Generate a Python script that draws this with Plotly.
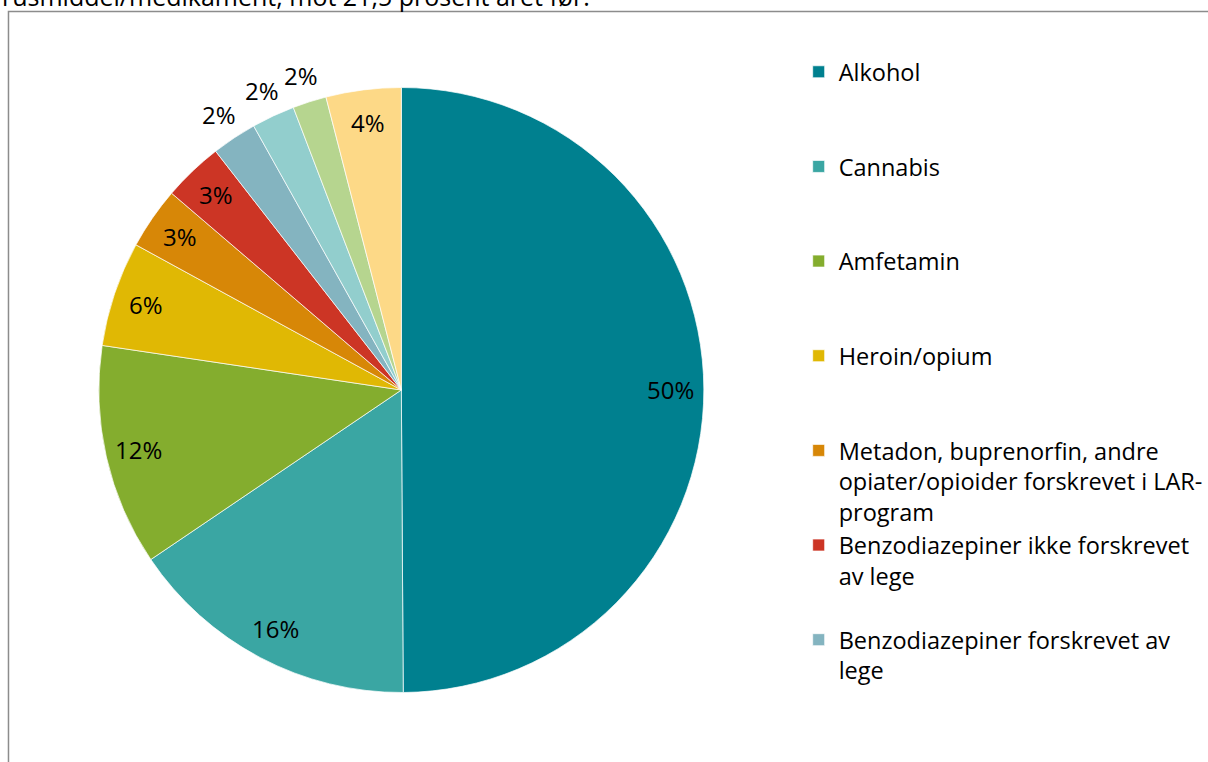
import math
import plotly.graph_objects as go

# Andel av innsatte etter rusmiddel/medikament (prosent)
categories = [
    "Alkohol",
    "Cannabis",
    "Amfetamin",
    "Heroin/opium",
    "Metadon, buprenorfin, andre<br>opiater/opioider forskrevet i LAR-<br>program",
    "Benzodiazepiner ikke forskrevet<br>av lege",
    "Benzodiazepiner forskrevet av<br>lege",
    "Kokain",
    "Andre legemidler",
    "Annet",
]
values = [49.8, 15.6, 11.8, 5.6, 3.3, 3.2, 2.4, 2.3, 1.8, 4.0]
colors = ["#00808f", "#3aa6a3", "#84ad2e", "#e0b804", "#d78707",
          "#cc3525", "#84b4c0", "#92cecd", "#b6d58f", "#fdd987"]
# which slices carry their label outside the pie
outside = [False, False, False, False, False, False, True, True, True, False]

W, H = 1208, 762
CX, CY, R = 402, 390, 303
FONT = "Open Sans"


def px(x):
    return x / W


def py(y):
    return 1 - y / H


# pad every legend entry to three lines so the entries sit on an even grid
def legend_text(s):
    n = s.count("<br>") + 1
    return s + "<br> " * (3 - n)


labels = [legend_text(c) for c in categories]

fig = go.Figure(
    go.Pie(
        labels=labels,
        values=values,
        sort=False,
        direction="clockwise",
        rotation=0,
        textinfo="none",
        hoverinfo="label+percent",
        marker=dict(colors=colors, line=dict(color="white", width=0.7)),
        domain=dict(x=[px(CX - R), px(CX + R)], y=[py(CY + R), py(CY - R)]),
    )
)

# percentage labels placed along each slice's mid-angle
total = sum(values)
cum = 0.0
annotations = []
for v, out in zip(values, outside):
    mid = (cum + v / 2) / total * 2 * math.pi
    cum += v
    r = R * (1.09 if out else 0.89)
    x = CX + r * math.sin(mid)
    y = CY - r * math.cos(mid)
    annotations.append(dict(
        x=px(x), y=py(y), xref="paper", yref="paper",
        text=f"{round(v / total * 100)}%", showarrow=False,
        xanchor="center", yanchor="middle",
        font=dict(family=FONT, size=24, color="#000000"),
    ))

annotations.append(dict(
    x=0, y=py(15), xref="paper", yref="paper",
    text="rusmiddel/medikament, mot 21,5 prosent året før.",
    showarrow=False, xanchor="left", yanchor="bottom",
    font=dict(family=FONT, size=25, color="#000000"),
))

fig.update_layout(
    width=W, height=H,
    margin=dict(l=0, r=0, t=0, b=0),
    paper_bgcolor="white",
    plot_bgcolor="white",
    font=dict(family=FONT, color="#000000"),
    showlegend=True,
    legend=dict(
        x=px(800), y=py(50), xanchor="left", yanchor="top",
        valign="top",
        font=dict(family=FONT, size=23.5, color="#000000"),
        bgcolor="rgba(0,0,0,0)",
        maxheight=660,
    ),
    annotations=annotations,
    shapes=[dict(
        type="rect", xref="paper", yref="paper",
        x0=px(8.5), y0=-0.1, x1=1.1, y1=py(11.5),
        line=dict(color="#8c8c8c", width=1.5),
        fillcolor="rgba(0,0,0,0)", layer="below",
    )],
)

fig.write_html(
    "out.html",
    post_script="document.querySelectorAll('.scrollbar').forEach(function(e){e.style.display='none';});",
)
